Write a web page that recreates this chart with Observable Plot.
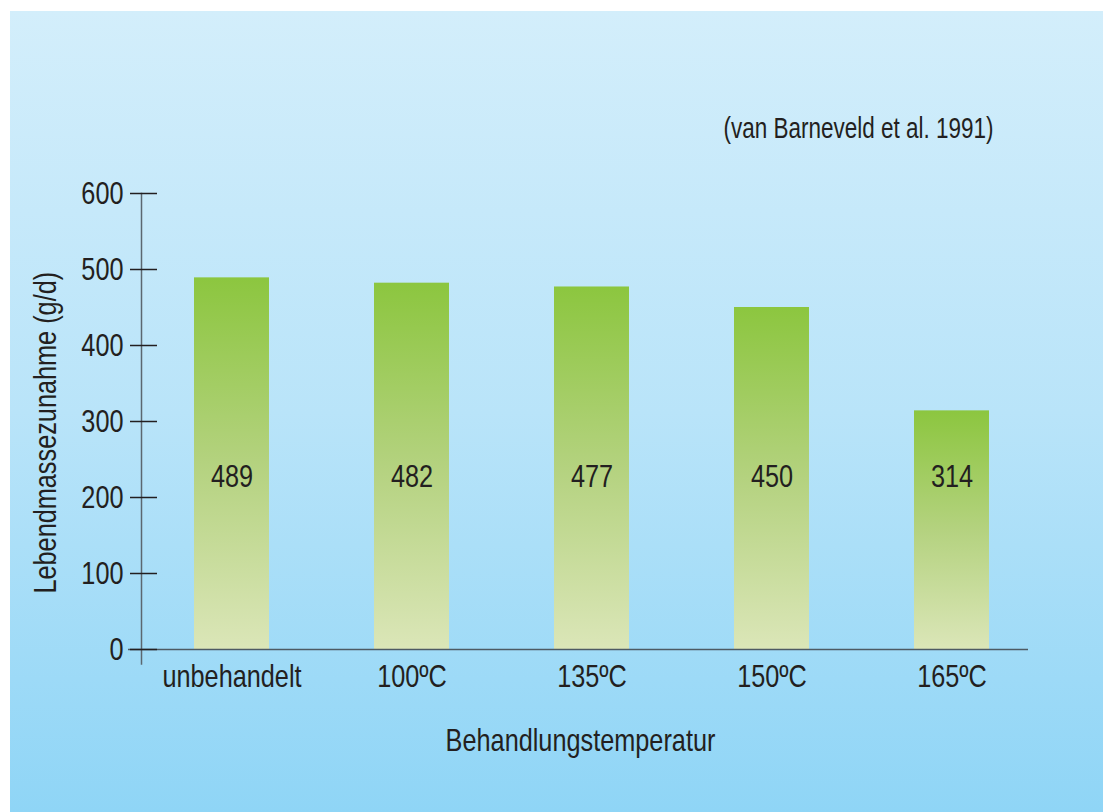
<!DOCTYPE html>
<html><head><meta charset="utf-8">
<script src="https://cdn.jsdelivr.net/npm/d3@7"></script>
<script src="https://cdn.jsdelivr.net/npm/@observablehq/plot@0.6"></script>
<style>
html,body{margin:0;padding:0;background:#fff;}
#panel{position:absolute;left:10px;top:11px;width:1093px;height:801px;background:linear-gradient(to bottom,#d3eefb 0%,#b9e4f9 50%,#8fd5f6 100%);}
#panel svg{background:transparent;position:absolute;left:0;top:0;}
</style></head>
<body><div id="panel"></div>
<script>
const categories = ["unbehandelt", "100ºC", "135ºC", "150ºC", "165ºC"];
const values = [489, 482, 477, 450, 314];
const yTicks = [0, 100, 200, 300, 400, 500, 600];
const yLabel = "Lebendmassezunahme (g/d)";
const xLabel = "Behandlungstemperatur";
const source = "(van Barneveld et al. 1991)";

const data = categories.map((c, i) => ({cat: c, val: values[i]}));
const FONT = "'Liberation Sans', Arial, sans-serif";

const gradientDefs = () => {
  const defs = d3.create("svg:defs");
  const g = defs.append("linearGradient").attr("id", "barGrad").attr("x1", 0).attr("y1", 0).attr("x2", 0).attr("y2", 1);
  g.append("stop").attr("offset", "0%").attr("stop-color", "#8cc63f");
  g.append("stop").attr("offset", "50%").attr("stop-color", "#b4d27f");
  g.append("stop").attr("offset", "100%").attr("stop-color", "#dbe6b8");
  return defs.node();
};

const chart = Plot.plot({
  width: 1093,
  height: 801,
  marginLeft: 131,
  marginRight: 61,
  marginTop: 182,
  marginBottom: 148.56,
  style: {fontFamily: FONT, background: "transparent", color: "#231f20"},
  x: {domain: categories, paddingInner: 0.5833, paddingOuter: 0.294, label: null},
  y: {domain: [-19, 600], label: null},
  marks: [
    gradientDefs,
    Plot.barY(data, {x: "cat", y1: 0, y2: "val", fill: "url(#barGrad)"}),
    Plot.frame({anchor: "left", stroke: "#5b6770", strokeWidth: 1.5}),
    Plot.ruleY([0], {stroke: "#4d5a63", strokeWidth: 1.5, insetLeft: -13, insetRight: 14}),
    Plot.axisY({ticks: yTicks, tickSize: 27, dx: 16, tickPadding: 7, stroke: "#231f20", strokeWidth: 1.5, fontSize: 32, label: null, tickFormat: d => String(d)}),
    Plot.axisX({tickSize: 0, tickPadding: 0, fontSize: 32, label: null, fill: "#231f20"}),
    Plot.text(data, {x: "cat", y: 0, text: d => String(d.val), dy: -173, fontSize: 32, fill: "#231f20", lineAnchor: "middle"}),
    Plot.text([yLabel], {frameAnchor: "left", textAnchor: "middle", rotate: -90, dx: -96, dy: 4, fontSize: 32, fill: "#231f20", lineAnchor: "middle"}),
    Plot.text([xLabel], {frameAnchor: "bottom", textAnchor: "middle", dx: -11.5, dy: 76.4, fontSize: 32, fill: "#231f20", lineAnchor: "middle"}),
    Plot.text([source], {frameAnchor: "top-right", textAnchor: "end", dx: -49, dy: -65.6, fontSize: 30, fill: "#231f20", lineAnchor: "middle"})
  ]
});
document.getElementById("panel").appendChild(chart);

// condensed look: horizontally compress every text around its own anchor
chart.querySelectorAll("text").forEach(el => {
  const k = el.textContent === source ? 0.75 : 0.79;
  const t = el.getAttribute("transform") || "";
  el.setAttribute("transform", `${t} scale(${k},1)`);
});
</script>
</body></html>
